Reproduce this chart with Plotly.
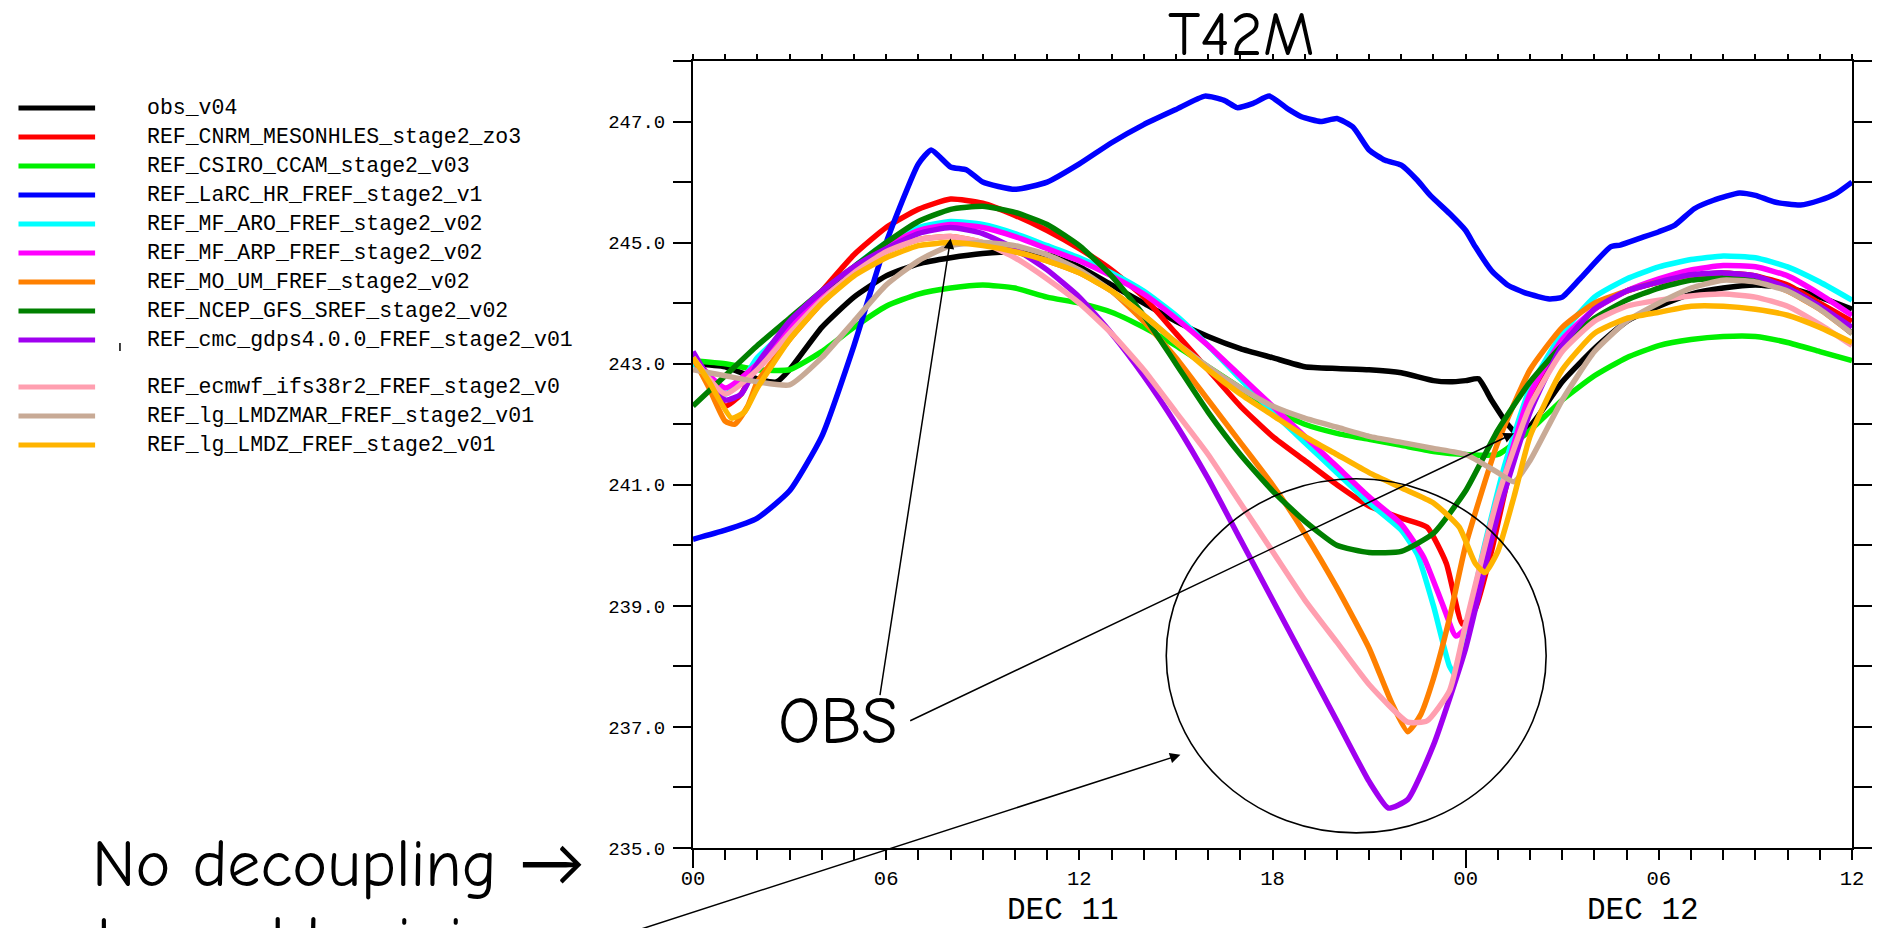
import plotly.graph_objects as go

# ---------------- data: 2-m temperature (K), hours since DEC 11 00Z ----------------
obs_h = [0, 1, 2, 2.6, 3, 4, 5, 6, 7, 8, 9, 10, 11, 12, 13, 14, 15, 16, 17, 18, 19, 20, 21, 22, 23, 23.5, 24, 24.4, 24.8, 25.3, 25.7, 26.2, 27, 28, 29, 30, 31, 32, 33, 34, 35, 36]
obs_t = [243.0, 242.95, 242.75, 242.7, 242.9, 243.6, 244.1, 244.45, 244.65, 244.75, 244.82, 244.85, 244.8, 244.6, 244.3, 244.0, 243.7, 243.45, 243.25, 243.1, 242.95, 242.92, 242.9, 242.85, 242.72, 242.7, 242.72, 242.75, 242.4, 242.0, 241.8, 242.1, 242.7, 243.25, 243.7, 243.95, 244.15, 244.25, 244.3, 244.25, 244.1, 243.9]

cnrm_h = [0, 0.5, 1, 1.5, 2, 3, 4, 5, 6, 7, 8, 9, 10, 11, 12, 13, 14, 15, 16, 17, 18, 19, 20, 21, 22, 22.8, 23.4, 23.9, 24.3, 24.8, 25.4, 26, 27, 28, 29, 30, 31, 32, 33, 34, 35, 36]
cnrm_t = [243.1, 242.8, 242.3, 242.5, 243.0, 243.6, 244.2, 244.8, 245.25, 245.55, 245.72, 245.65, 245.45, 245.2, 244.9, 244.55, 244.1, 243.5, 242.9, 242.3, 241.8, 241.4, 241.0, 240.65, 240.45, 240.3, 239.7, 238.7, 238.95, 239.9, 241.3, 242.4, 243.3, 243.9, 244.2, 244.35, 244.45, 244.5, 244.45, 244.3, 244.0, 243.7]

csiro_h = list(range(0, 37))
csiro_t = [243.05, 243.0, 242.9, 242.9, 243.2, 243.6, 243.95, 244.15, 244.25, 244.3, 244.25, 244.1, 244.0, 243.85, 243.6, 243.3, 242.95, 242.6, 242.25, 242.0, 241.85, 241.75, 241.65, 241.55, 241.5, 241.5, 241.9, 242.4, 242.8, 243.1, 243.3, 243.4, 243.45, 243.45, 243.35, 243.2, 243.05]

larc_h = [0, 1, 2, 3, 4, 5, 6, 7, 7.4, 8, 8.5, 9, 10, 11, 12, 13, 14, 15, 15.9, 16.5, 16.9, 17.4, 17.9, 18.5, 18.9, 19.5, 20.0, 20.5, 21.0, 21.5, 22.0, 22.5, 22.9, 23.5, 24.0, 24.3, 24.8, 25.3, 25.9, 26.6, 27.0, 27.6, 28.5, 28.8, 29.4, 30.0, 30.5, 31.1, 31.7, 32.5, 33.0, 33.6, 34.4, 35.0, 35.5, 36.0]
larc_t = [240.1, 240.25, 240.45, 240.9, 241.8, 243.3, 245.0, 246.3, 246.53, 246.25, 246.2, 246.0, 245.88, 246.0, 246.3, 246.65, 246.95, 247.2, 247.42, 247.35, 247.23, 247.3, 247.42, 247.2, 247.08, 247.0, 247.05, 246.91, 246.53, 246.36, 246.28, 246.03, 245.78, 245.48, 245.2, 244.93, 244.54, 244.3, 244.16, 244.07, 244.1, 244.43, 244.93, 244.96, 245.07, 245.18, 245.29, 245.56, 245.7, 245.82, 245.78, 245.67, 245.62, 245.7, 245.81, 246.0]

aro_h = [0, 0.5, 1, 1.5, 2, 3, 4, 5, 6, 7, 8, 9, 10, 11, 12, 13, 14, 15, 16, 17, 18, 19, 20, 21, 22, 22.5, 23.0, 23.5, 23.7, 24.0, 24.5, 25.2, 26, 27, 28, 29, 30, 31, 32, 33, 34, 35, 36]
aro_t = [243.0, 242.8, 242.5, 242.7, 243.1, 243.6, 244.1, 244.6, 245.0, 245.25, 245.35, 245.3, 245.15, 244.95, 244.75, 244.5, 244.2, 243.8, 243.3, 242.75, 242.2, 241.7, 241.2, 240.7, 240.25, 239.85, 239.0, 238.0, 237.85, 238.5, 239.8, 241.3, 242.6, 243.5, 244.1, 244.4, 244.6, 244.72, 244.78, 244.75, 244.6, 244.35, 244.05]

arp_h = [0, 1, 2, 3, 4, 5, 6, 7, 8, 9, 10, 11, 12, 13, 14, 15, 16, 17, 18, 19, 20, 21, 22, 22.7, 23.3, 23.7, 24.1, 24.6, 25.3, 26, 27, 28, 29, 30, 31, 32, 33, 34, 35, 36]
arp_t = [243.1, 242.6, 243.0, 243.6, 244.1, 244.6, 244.95, 245.2, 245.3, 245.25, 245.1, 244.9, 244.7, 244.45, 244.15, 243.75, 243.3, 242.8, 242.3, 241.8, 241.3, 240.8, 240.35, 239.8, 239.0, 238.5, 238.7, 239.8, 241.3, 242.5, 243.4, 243.9, 244.2, 244.4, 244.55, 244.62, 244.6, 244.45, 244.15, 243.8]

moum_h = [0, 0.5, 1.0, 1.3, 1.7, 2, 3, 4, 5, 6, 7, 8, 9, 10, 11, 12, 13, 14, 15, 16, 17, 18, 19, 20, 21, 21.7, 22.2, 22.6, 23, 23.5, 24, 25, 26, 27, 28, 29, 30, 31, 32, 33, 34, 35, 36]
moum_t = [243.1, 242.6, 242.05, 242.0, 242.3, 242.7, 243.4, 244.0, 244.5, 244.85, 245.05, 245.1, 245.0, 244.85, 244.7, 244.5, 244.2, 243.7, 243.1, 242.4, 241.7, 241.0, 240.2, 239.3, 238.3, 237.4, 236.92, 237.2, 237.8, 238.8, 240.0, 241.7, 242.9, 243.6, 244.0, 244.2, 244.35, 244.42, 244.43, 244.4, 244.2, 243.9, 243.5]

ncep_h = list(range(0, 37))
ncep_t = [242.3, 242.8, 243.3, 243.75, 244.2, 244.6, 245.0, 245.35, 245.55, 245.6, 245.5, 245.3, 244.95, 244.45, 243.8, 243.0, 242.2, 241.5, 240.9, 240.4, 240.0, 239.88, 239.9, 240.2, 240.9, 241.9, 242.7, 243.3, 243.75, 244.05, 244.25, 244.38, 244.42, 244.4, 244.25, 243.95, 243.5]

cmc_h = [0, 1, 1.5, 2, 3, 4, 5, 6, 7, 8, 9, 10, 11, 12, 13, 14, 15, 16, 17, 18, 19, 20, 21, 21.6, 22.2, 23, 24, 25, 26, 27, 28, 29, 30, 31, 32, 33, 34, 35, 36]
cmc_t = [243.2, 242.4, 242.5, 243.0, 243.7, 244.2, 244.6, 244.9, 245.15, 245.25, 245.15, 244.9, 244.55, 244.1, 243.5, 242.8, 242.0, 241.1, 240.1, 239.1, 238.1, 237.1, 236.1, 235.66, 235.8, 236.7, 238.3, 240.5, 242.2, 243.3, 243.9, 244.2, 244.35, 244.47, 244.5, 244.45, 244.25, 243.95, 243.6]

ecmwf_h = [0, 1, 2, 3, 4, 5, 6, 7, 8, 9, 10, 11, 12, 13, 14, 15, 16, 17, 18, 19, 20, 21, 22.2, 22.8, 23.5, 24, 25, 26, 27, 28, 29, 30, 31, 32, 33, 34, 35, 36]
ecmwf_t = [243.1, 242.5, 242.9, 243.5, 244.05, 244.5, 244.85, 245.05, 245.1, 245.0, 244.75, 244.4, 244.0, 243.5, 242.9, 242.2, 241.5, 240.7, 239.9, 239.1, 238.4, 237.7, 237.08, 237.1, 237.6, 238.7, 240.8, 242.3, 243.2, 243.7, 243.95, 244.05, 244.12, 244.15, 244.1, 243.95, 243.65, 243.3]

lmdzmar_h = [0, 1, 2, 3, 4, 5, 6, 7, 8, 9, 10, 11, 12, 13, 14, 15, 16, 17, 18, 19, 20, 21, 22, 23, 24, 25, 25.5, 26, 27, 28, 29, 30, 31, 32, 33, 34, 35, 36]
lmdzmar_t = [242.9, 242.8, 242.7, 242.65, 243.1, 243.7, 244.3, 244.7, 244.95, 245.0, 244.95, 244.8, 244.55, 244.2, 243.8, 243.35, 242.95, 242.6, 242.3, 242.1, 241.95, 241.8, 241.7, 241.6, 241.5, 241.2, 241.05, 241.4, 242.4, 243.2, 243.7, 244.0, 244.25, 244.38, 244.35, 244.2, 243.9, 243.5]

lmdz_h = [0, 0.5, 1.2, 1.6, 2, 3, 4, 5, 6, 7, 8, 9, 10, 11, 12, 13, 14, 15, 16, 17, 18, 19, 20, 21, 22, 23, 23.8, 24.3, 24.6, 25.0, 25.5, 26, 27, 28, 29, 30, 31, 32, 33, 34, 35, 36]
lmdz_t = [243.1, 242.7, 242.1, 242.2, 242.6, 243.4, 244.0, 244.45, 244.75, 244.95, 245.0, 244.95, 244.85, 244.7, 244.5, 244.2, 243.8, 243.35, 242.9, 242.5, 242.15, 241.8, 241.5, 241.2, 240.95, 240.7, 240.3, 239.7, 239.55, 239.9, 240.8, 241.8, 242.9, 243.5, 243.75, 243.85, 243.95, 243.95, 243.9, 243.8, 243.6, 243.35]

series_names = [
    "obs_v04",
    "REF_CNRM_MESONHLES_stage2_zo3",
    "REF_CSIRO_CCAM_stage2_v03",
    "REF_LaRC_HR_FREF_stage2_v1",
    "REF_MF_ARO_FREF_stage2_v02",
    "REF_MF_ARP_FREF_stage2_v02",
    "REF_MO_UM_FREF_stage2_v02",
    "REF_NCEP_GFS_SREF_stage2_v02",
    "REF_cmc_gdps4.0.0_FREF_stage2_v01",
    "REF_ecmwf_ifs38r2_FREF_stage2_v0",
    "REF_lg_LMDZMAR_FREF_stage2_v01",
    "REF_lg_LMDZ_FREF_stage2_v01",
]
series_hours = [obs_h, cnrm_h, csiro_h, larc_h, aro_h, arp_h, moum_h, ncep_h, cmc_h, ecmwf_h, lmdzmar_h, lmdz_h]
series_temps = [obs_t, cnrm_t, csiro_t, larc_t, aro_t, arp_t, moum_t, ncep_t, cmc_t, ecmwf_t, lmdzmar_t, lmdz_t]
series_colors = ["#000000", "#ff0000", "#00f000", "#0000ff", "#00ffff", "#ff00ff",
                 "#ff8000", "#008000", "#a000f0", "#ff9fb0", "#c8aa96", "#ffb400"]

x_tick_hours = [0, 6, 12, 18, 24, 30, 36]
x_tick_text = ["00", "06", "12", "18", "00", "06", "12"]
date_hours = [12, 30]
date_text = ["DEC 11", "DEC 12"]
y_tick_vals = [235, 237, 239, 241, 243, 245, 247]
y_tick_text = [f"{v:.1f}" for v in y_tick_vals]

# ---------------- page geometry ----------------
W, H = 1884, 928
ML, MR, MT, MB = 693, 26, 61, 80
PW, PH = W - ML - MR, H - MT - MB


def px_x(px):
    return (px - ML) / PW


def px_y(py):
    return (H - MB - py) / PH


LABEL_FONT = "Liberation Mono, DejaVu Sans Mono, monospace"
HAND_FONT = "Comic Sans MS, Comic Neue, Lato, sans-serif"

fig = go.Figure()
for name, hrs, temps, col in zip(series_names, series_hours, series_temps, series_colors):
    fig.add_trace(go.Scatter(
        x=hrs, y=temps, mode="lines", name=name,
        line=dict(color=col, width=5.5, shape="spline", smoothing=0.5),
        showlegend=False,
    ))

# top axis carries only short hourly ticks
fig.add_trace(go.Scatter(x=[0, 36], y=[None, None], xaxis="x2", showlegend=False, hoverinfo="skip"))
# long day-boundary ticks under the bottom axis
fig.add_trace(go.Scatter(x=[0, 36], y=[None, None], xaxis="x3", showlegend=False, hoverinfo="skip"))

axis_common = dict(showgrid=False, zeroline=False, linecolor="black", linewidth=2,
                   tickcolor="black", tickwidth=2)

fig.update_layout(
    width=W, height=H,
    margin=dict(l=ML, r=MR, t=MT, b=MB, pad=0),
    paper_bgcolor="white", plot_bgcolor="white",
    showlegend=False,
    xaxis=dict(
        **axis_common, range=[0, 36], showline=True, ticks="outside", ticklen=10,
        tickvals=x_tick_hours, ticktext=x_tick_text,
        tickfont=dict(family=LABEL_FONT, size=20.5, color="black"),
        ticklabelstandoff=0,
        minor=dict(dtick=1, tick0=0, ticks="outside", ticklen=10, tickwidth=2, tickcolor="black", showgrid=False),
    ),
    xaxis2=dict(
        **axis_common, range=[0, 36], overlaying="x", side="top", showline=True,
        ticks="outside", ticklen=5, dtick=1, tick0=0, showticklabels=False,
    ),
    xaxis3=dict(
        showgrid=False, zeroline=False, range=[0, 36], overlaying="x", side="bottom", showline=False,
        ticks="outside", ticklen=19, tickwidth=2, tickcolor="black",
        tickvals=[0, 24], showticklabels=False,
    ),
    yaxis=dict(
        **axis_common, range=[235, 248], showline=True, mirror="allticks",
        ticks="outside", ticklen=18, tickvals=y_tick_vals, ticktext=y_tick_text,
        tickfont=dict(family=LABEL_FONT, size=19, color="black"),
        ticklabelstandoff=4,
        minor=dict(dtick=1, tick0=235, ticks="outside", ticklen=18, tickwidth=2, tickcolor="black", showgrid=False),
    ),
)

annotations = []
shapes = []

# date line under the hour labels
for hr, txt in zip(date_hours, date_text):
    annotations.append(dict(
        x=hr, y=px_y(910), xref="x", yref="paper", text=txt, showarrow=False,
        xanchor="center", yanchor="middle", xshift=-16,
        font=dict(family=LABEL_FONT, size=31, color="black"),
    ))

# legend block on the left
row_y = []
for i in range(len(series_names)):
    y = 108 + 29 * i + (18 if i >= 9 else 0)
    row_y.append(y)
for name, col, y in zip(series_names, series_colors, row_y):
    shapes.append(dict(type="line", xref="paper", yref="paper",
                       x0=px_x(15), x1=px_x(92), y0=px_y(y), y1=px_y(y),
                       line=dict(color=col, width=5)))
    annotations.append(dict(
        x=px_x(142), y=px_y(y), xref="paper", yref="paper", text=name, showarrow=False,
        xanchor="left", yanchor="middle",
        font=dict(family=LABEL_FONT, size=21.5, color="black"),
    ))
# small stray stroke left of the ninth legend label
shapes.append(dict(type="line", xref="paper", yref="paper",
                   x0=px_x(117), x1=px_x(117), y0=px_y(row_y[8] + 3), y1=px_y(row_y[8] + 11),
                   line=dict(color="black", width=1.5)))

# title
annotations.append(dict(
    x=px_x(1244), y=1, xref="paper", yref="paper", text="T42M", showarrow=False,
    xanchor="center", yanchor="bottom", yshift=-12,
    font=dict(family=HAND_FONT, size=62, color="black"),
))

# OBS label with two pointers
annotations.append(dict(
    x=4.5, y=236.66, xref="x", yref="y", text="OBS", showarrow=False,
    xanchor="center", yanchor="bottom", yshift=-14,
    font=dict(family=HAND_FONT, size=66, color="black"),
))
annotations.append(dict(
    x=8.0, y=245.07, xref="x", yref="y", ax=5.8, ay=237.5, axref="x", ayref="y",
    text="", showarrow=True, arrowhead=2, arrowsize=1.4, arrowwidth=1.5, arrowcolor="black",
))
annotations.append(dict(
    x=25.5, y=241.85, xref="x", yref="y", ax=6.7, ay=237.09, axref="x", ayref="y",
    text="", showarrow=True, arrowhead=2, arrowsize=1.4, arrowwidth=1.5, arrowcolor="black",
))

# comment text at the lower left, its pointer into the circled minima
annotations.append(dict(
    x=px_x(87), y=px_y(905), xref="paper", yref="paper", text="No decoupling \u2192",
    showarrow=False, xanchor="left", yanchor="bottom",
    font=dict(family=HAND_FONT, size=66, color="black"),
))
annotations.append(dict(
    x=px_x(87), y=px_y(982), xref="paper", yref="paper", text="too cold minimum",
    showarrow=False, xanchor="left", yanchor="bottom",
    font=dict(family=HAND_FONT, size=66, color="black"),
))
annotations.append(dict(
    x=15.14, y=236.54, xref="x", yref="y", ax=-2.9, ay=233.44, axref="x", ayref="y",
    text="", showarrow=True, arrowhead=2, arrowsize=1.4, arrowwidth=1.5, arrowcolor="black",
))

# circle around the cold minima
shapes.append(dict(type="circle", xref="x", yref="y", x0=14.7, x1=26.5, y0=235.25, y1=241.1,
                   line=dict(color="black", width=1.6)))

fig.update_layout(annotations=annotations, shapes=shapes)

fig.write_html("out.html")
